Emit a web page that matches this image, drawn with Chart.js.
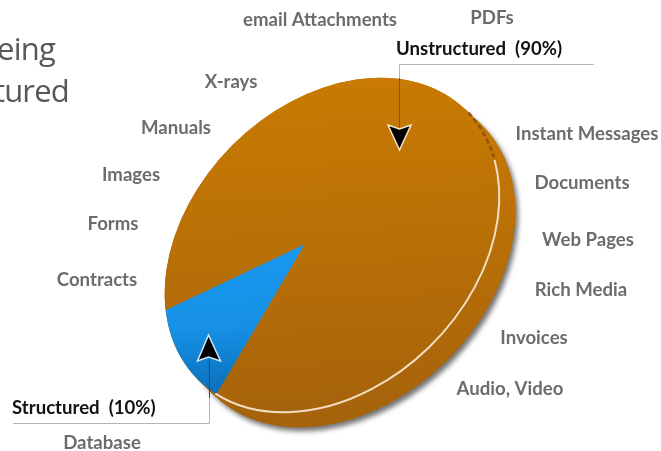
<!DOCTYPE html>
<html>
<head>
<meta charset="utf-8">
<title>Structured and unstructured data</title>
<script src="https://cdn.jsdelivr.net/npm/chart.js@4/dist/chart.umd.min.js"></script>
<style>
    html, body { margin: 0; padding: 0; background: #fff; overflow: hidden; }
    canvas { display: block; }
</style>
</head>
<body>
<canvas id="myChart" width="661" height="451"></canvas>
<script>
// data
const categories = ['Structured', 'Unstructured'];
const shares = [10, 90];
const calloutLabels = ['Structured  (10%)', 'Unstructured  (90%)'];
const sourceLabels = ['email Attachments', 'PDFs', 'X-rays', 'Manuals', 'Images', 'Forms', 'Contracts', 'Database',
    'Instant Messages', 'Documents', 'Web Pages', 'Rich Media', 'Invoices', 'Audio, Video'];
const titleLines = ['eing', 'tured'];

// label layout, same order as the lists above
const sourceX = [320, 492, 231, 176, 131, 113, 97, 102, 587, 582, 588, 581, 534, 510];
const sourceY = [20, 18, 82, 128, 175, 224, 280, 443, 134, 183, 240, 290, 338, 389];

// tilted disc
const face = { x: 332, y: 245, a: 190, b: 141, tilt: -Math.PI / 4 };
const apex = { x: 305, y: 244 };
const depth = { x: 16, y: 15 };

const canvas = document.getElementById('myChart');
const ctx = canvas.getContext('2d');

// chart space -> tilted page space, the pie centre lands on the apex
function makeTilt() {
    return new DOMMatrix()
        .translate(apex.x, apex.y)
        .rotate(-45)
        .scale(1.25, 1.25 / 1.055)
        .translate(-661 / 2, -451 / 2);
}

// vertical gradient on the page, worked back into chart space
function pageGradient(stops) {
    const inv = makeTilt().inverse();
    const p0 = inv.transformPoint(new DOMPoint(330, 77));
    const p1 = inv.transformPoint(new DOMPoint(330, 428));
    const g = ctx.createLinearGradient(p0.x, p0.y, p1.x, p1.y);
    stops.forEach(function (s) { g.addColorStop(s[0], s[1]); });
    return g;
}

function flatGradient(top, bottom) {
    const g = ctx.createLinearGradient(0, 77, 0, 428);
    g.addColorStop(0, top);
    g.addColorStop(1, bottom);
    return g;
}

function faceEllipse(c, dx, dy, from, to) {
    c.beginPath();
    c.ellipse(face.x + dx, face.y + dy, face.a, face.b, face.tilt, from, to);
}

function drawArrow(c, tip, left, notch, right, edge) {
    c.beginPath();
    c.moveTo(tip[0], tip[1]);
    c.lineTo(left[0], left[1]);
    c.lineTo(notch[0], notch[1]);
    c.lineTo(right[0], right[1]);
    c.closePath();
    c.fillStyle = '#000';
    c.strokeStyle = edge;
    c.lineWidth = 1.5;
    c.lineJoin = 'miter';
    c.fill();
    c.stroke();
}

const tiltedPie = {
    id: 'tiltedPie',
    beforeDatasetsDraw(chart) {
        const c = chart.ctx;
        // side of the disc with its soft shadow
        c.save();
        c.shadowColor = 'rgba(70,70,70,0.75)';
        c.shadowBlur = 5;
        c.shadowOffsetX = 3;
        c.shadowOffsetY = 4;
        c.fillStyle = '#a9660a';
        faceEllipse(c, depth.x, depth.y, 0, Math.PI * 2);
        c.fill();
        c.restore();
        c.fillStyle = flatGradient('#c97b02', '#a5620b');
        for (let i = 0; i <= 16; i++) {
            faceEllipse(c, depth.x * i / 16, depth.y * i / 16, 0, Math.PI * 2);
            c.fill();
        }
        // slices are clipped to the top face and tilted with it
        c.save();
        faceEllipse(c, 0, 0, 0, Math.PI * 2);
        c.clip();
        const m = makeTilt();
        c.transform(m.a, m.b, m.c, m.d, m.e, m.f);
    },
    afterDatasetsDraw(chart) {
        const c = chart.ctx;
        c.restore();

        // light rim along the lower right of the face
        c.strokeStyle = '#f1dfc6';
        c.lineWidth = 2;
        faceEllipse(c, 0, 0, 0.4, 2.98);
        c.stroke();
        // dark nick where the rim starts
        c.strokeStyle = 'rgba(130,75,15,0.8)';
        c.lineWidth = 2.5;
        c.setLineDash([5, 3]);
        faceEllipse(c, 0, 0, 0.02, 0.38);
        c.stroke();
        c.setLineDash([]);

        // callout leaders
        c.lineWidth = 1;
        c.strokeStyle = '#b5b5b5';
        c.beginPath();
        c.moveTo(399.5, 64.5);
        c.lineTo(594, 64.5);
        c.moveTo(13, 423.5);
        c.lineTo(209.5, 423.5);
        c.moveTo(209.5, 398);
        c.lineTo(209.5, 423.5);
        c.moveTo(399.5, 64.5);
        c.lineTo(399.5, 78);
        c.stroke();
        c.strokeStyle = '#8a5510';
        c.beginPath();
        c.moveTo(399.5, 78);
        c.lineTo(399.5, 128);
        c.stroke();
        c.strokeStyle = '#0b4f86';
        c.beginPath();
        c.moveTo(209.5, 358);
        c.lineTo(209.5, 398);
        c.stroke();

        drawArrow(c, [399.5, 150], [388, 125], [399.5, 129], [411, 125], '#f5e6cf');
        drawArrow(c, [208.5, 335], [197.5, 361], [208.5, 357], [220.5, 361], '#cfe8fb');

        // texts
        c.textAlign = 'center';
        c.textBaseline = 'middle';
        c.font = 'bold 18.6px Lato';
        c.fillStyle = '#6a6d70';
        sourceLabels.forEach(function (label, i) {
            c.fillText(label, sourceX[i], sourceY[i]);
        });
        c.fillStyle = '#111';
        c.textAlign = 'left';
        c.fillText(calloutLabels[0], 12, 408);
        c.fillText(calloutLabels[1], 396, 49);

        c.font = '31px "Open Sans"';
        c.letterSpacing = '-0.8px';
        c.fillStyle = '#55585b';
        c.textAlign = 'right';
        c.textBaseline = 'alphabetic';
        c.fillText(titleLines[0], 55, 60);
        c.fillText(titleLines[1], 69, 102);
        c.letterSpacing = '0px';
    }
};

new Chart(ctx, {
    type: 'pie',
    data: {
        labels: categories,
        datasets: [{
            data: shares,
            backgroundColor: [
                pageGradient([[0.48, '#1a98ef'], [0.7, '#1590e4'], [0.92, '#0a69b3']]),
                pageGradient([[0, '#c97b02'], [1, '#a5620b']])
            ],
            borderWidth: 0,
            clip: false
        }]
    },
    options: {
        responsive: false,
        animation: false,
        rotation: 254.7,
        layout: { padding: 0 },
        plugins: {
            legend: { display: false },
            tooltip: { enabled: false },
            title: { display: false }
        }
    },
    plugins: [tiltedPie]
});
</script>
</body>
</html>
